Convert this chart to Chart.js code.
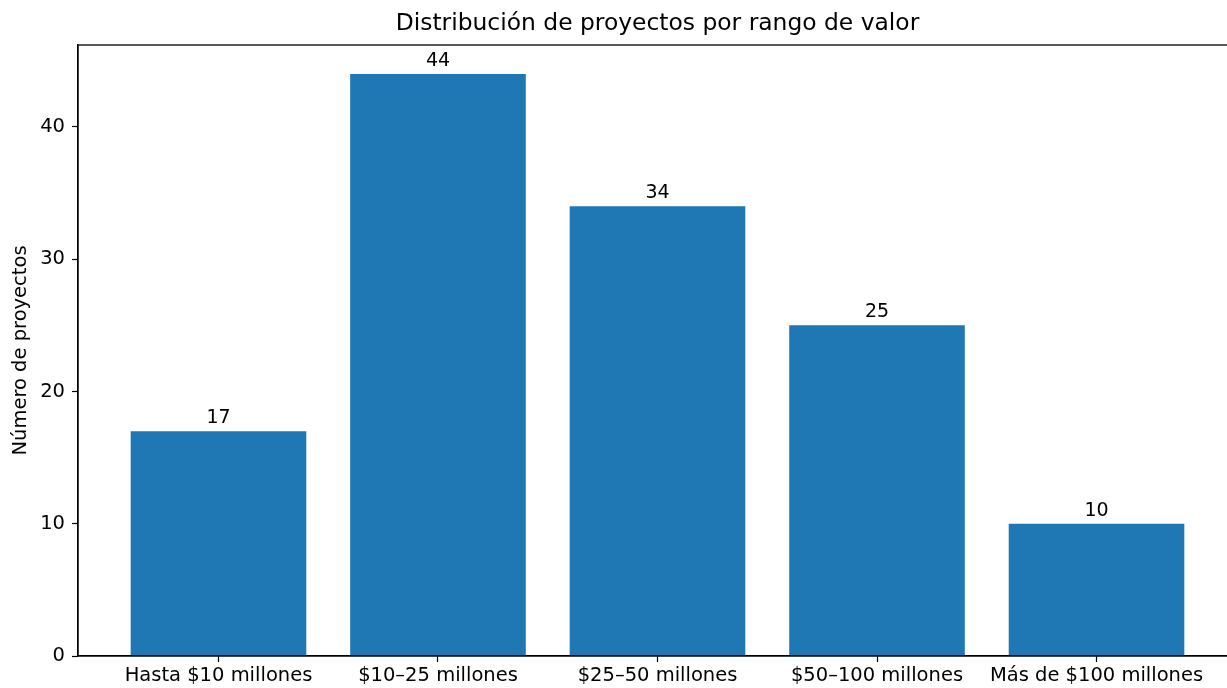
<!DOCTYPE html>
<html>
<head>
<meta charset="utf-8">
<script src="https://cdn.jsdelivr.net/npm/chart.js@4/dist/chart.umd.min.js"></script>
<style>
  html, body { margin: 0; padding: 0; background: #fff; overflow: hidden; width: 1227px; height: 688px; }
  canvas { display: block; }
</style>
</head>
<body>
<canvas id="c" width="1312" height="688"></canvas>
<script>
const categories = ["Hasta $10 millones", "$10\u201325 millones", "$25\u201350 millones", "$50\u2013100 millones", "M\u00e1s de $100 millones"];
const values = [17, 44, 34, 25, 10];
const yTicks = [0, 10, 20, 30, 40];
const titleText = "Distribución de proyectos por rango de valor";
const yTitle = "Número de proyectos";

const FONT = "'DejaVu Sans', sans-serif";
Chart.defaults.color = '#000';
Chart.defaults.font.family = FONT;

const frame = {
  id: 'frame',
  afterDraw(chart) {
    const a = chart.chartArea, ctx = chart.ctx;
    ctx.save();
    ctx.strokeStyle = '#000';
    ctx.lineWidth = 1.3;
    ctx.strokeRect(a.left, a.top, a.right - a.left, a.bottom - a.top);
    ctx.restore();
  }
};

const axesTitle = {
  id: 'axesTitle',
  afterDraw(chart) {
    const a = chart.chartArea, ctx = chart.ctx;
    ctx.save();
    ctx.font = "23.4px " + FONT;
    ctx.fillStyle = '#000';
    ctx.textAlign = 'center';
    ctx.textBaseline = 'middle';
    ctx.fillText(titleText, (a.left + a.right) / 2, 24);
    ctx.restore();
  }
};

const valueLabels = {
  id: 'valueLabels',
  afterDatasetsDraw(chart) {
    const ctx = chart.ctx;
    const meta = chart.getDatasetMeta(0);
    ctx.save();
    ctx.font = "19px " + FONT;
    ctx.fillStyle = '#000';
    ctx.textAlign = 'center';
    ctx.textBaseline = 'alphabetic';
    meta.data.forEach((bar, i) => {
      ctx.fillText(String(values[i]), bar.x, bar.y - 8);
    });
    ctx.restore();
  }
};

new Chart(document.getElementById('c'), {
  type: 'bar',
  data: {
    datasets: [{
      data: categories.map((c, i) => ({ x: i, y: values[i] })),
      backgroundColor: '#1f77b4',
      borderWidth: 0,
      categoryPercentage: 1,
      barPercentage: 0.8
    }]
  },
  options: {
    responsive: false,
    animation: false,
    layout: { padding: { left: 0, right: 75, top: 45, bottom: 0 } },
    plugins: {
      legend: { display: false },
      tooltip: { enabled: false },
      title: { display: false }
    },
    scales: {
      x: {
        type: 'linear',
        offset: false,
        min: -0.64,
        max: 4.64,
        afterBuildTicks(scale) { scale.ticks = categories.map((c, i) => ({ value: i })); },
        afterFit(scale) { scale.height = 32; },
        ticks: {
          callback: (v) => categories[v],
          font: { size: 19.5, family: FONT },
          padding: 2,
          maxRotation: 0,
          autoSkip: false,
          color: '#000'
        },
        grid: { offset: false, drawOnChartArea: false, drawTicks: true, tickLength: 6, color: '#000', tickWidth: 1.2 },
        border: { display: true, color: '#000', width: 1.3 }
      },
      y: {
        min: 0,
        max: 46.2,
        afterBuildTicks(scale) { scale.ticks = yTicks.map(v => ({ value: v })); },
        afterFit(scale) { scale.width = 78; },
        ticks: {
          font: { size: 19.5, family: FONT },
          padding: 7,
          color: '#000'
        },
        title: {
          display: true,
          text: yTitle,
          font: { size: 19.5, family: FONT },
          padding: { top: 9, bottom: 0 },
          color: '#000'
        },
        grid: { drawOnChartArea: false, drawTicks: true, tickLength: 6, color: '#000', tickWidth: 1.2 },
        border: { display: true, color: '#000', width: 1.3 }
      }
    }
  },
  plugins: [frame, axesTitle, valueLabels]
});
</script>
</body>
</html>
